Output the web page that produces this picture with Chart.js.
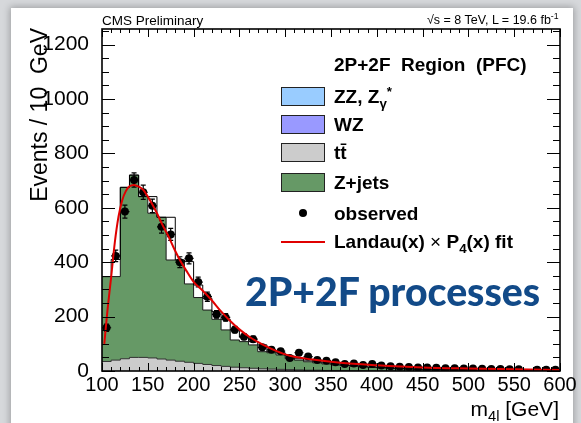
<!DOCTYPE html>
<html>
<head>
<meta charset="utf-8">
<title>m4l 2P+2F control region</title>
<script src="https://cdn.jsdelivr.net/npm/chart.js@4.4.1/dist/chart.umd.min.js"></script>
<style>
  html, body { margin: 0; padding: 0; width: 581px; height: 423px; overflow: hidden; background: #d6d8db; }
  body { position: relative; font-family: "Liberation Sans", Arial, sans-serif; color: #000; }
  #card { position: absolute; left: 11px; top: 8px; width: 562px; height: 440px; background: #fff;
          box-shadow: 0 0 7px 1px rgba(0, 0, 0, 0.28); }
  #plot { position: absolute; left: 0; top: 0; }
  .txt { position: absolute; white-space: nowrap; line-height: 1; }
  .box { position: absolute; border: 1px solid #222; box-sizing: border-box; }
  sub, sup { font-size: 0.7em; line-height: 0; }
</style>
</head>
<body>
<div id="card"></div>
<canvas id="plot" width="581" height="423"></canvas>
<div id="overlay"></div>
<script>
// ---- histogram binning (lower bin edges, 10 GeV wide) ----
const binLow = [100, 110, 120, 130, 140, 150, 160, 170, 180, 190,
                200, 210, 220, 230, 240, 250, 260, 270, 280, 290,
                300, 310, 320, 330, 340, 350, 360, 370, 380, 390,
                400, 410, 420, 430, 440, 450, 460, 470, 480, 490,
                500, 510, 520, 530, 540, 550, 560, 570, 580, 590];
const binWidth = 10;

// ttbar (bottom of the stack)
const ttbar = [35, 40, 45, 50, 50, 48, 44, 40, 36, 32,
               28, 24, 20, 17, 14, 12, 10, 8, 7, 6,
               5, 4, 3, 3, 2, 2, 2, 1, 1, 1,
               1, 1, 0, 0, 0, 0, 0, 0, 0, 0,
               0, 0, 0, 0, 0, 0, 0, 0, 0, 0];

// Z+jets, stacked on ttbar
const zjets = [312, 307, 630, 670, 591, 532, 521, 368, 372, 288,
               242, 200, 170, 134, 100, 96, 86, 63, 60, 53,
               40, 36, 31, 27, 24, 20, 18, 16, 14, 12,
               10, 8, 8, 7, 6, 5, 5, 4, 4, 3,
               3, 3, 2, 2, 2, 2, 1, 1, 1, 1];

// total expectation, drawn as an open black histogram
const totalMC = [347, 410, 675, 720, 641, 641, 565, 565, 408, 402,
                 316, 267, 218, 190, 151, 124, 108, 96, 71, 67,
                 55, 45, 40, 34, 30, 26, 22, 20, 17, 15,
                 13, 11, 9, 8, 7, 6, 5, 5, 4, 4,
                 3, 3, 3, 2, 2, 2, 2, 1, 1, 1];

// observed events per bin and their errors (null = empty bin)
const observed = [159, 423, 586, 702, 657, 607, 530, 502, 400, 414,
                  327, 273, 208, 197, 152, 126, 117, 87, 78, 73,
                  48, 67, 53, 40, 38, 32, 26, 28, 22, 26,
                  20, 17, 16, 15, 13, 13, 12, 10, 10, 9,
                  9, 8, 7, 7, 6, 6, null, 5, 5, 5];
const obsErr = [13, 21, 24, 26, 26, 25, 23, 22, 20, 20,
                18, 17, 14, 14, 12, 11, 11, 9, 9, 9,
                7, 8, 7, 6, 6, 6, 5, 5, 5, 5,
                4, 4, 4, 4, 4, 4, 3, 3, 3, 3,
                3, 3, 3, 3, 2, 2, null, 2, 2, 2];

// Landau x P4 fit curve
const fitX = [102.5, 106, 110, 114, 118, 122, 126, 130, 135, 140,
              145, 150, 155, 160, 166, 172, 178, 185, 192, 200,
              210, 220, 230, 240, 250, 262, 275, 290, 305, 330,
              360, 400, 450, 500, 550, 600];
const fitY = [100, 224, 345, 473, 567, 627, 661, 679, 684, 678,
              666, 641, 612, 580, 537, 499, 455, 408, 369, 328,
              295, 259, 219, 184, 153, 123, 98, 74, 56, 42,
              30, 21, 13, 9, 6, 4];

// axis ticks
const xTicks = [100, 150, 200, 250, 300, 350, 400, 450, 500, 550, 600];
const yTicks = [0, 200, 400, 600, 800, 1000, 1200];

// ---- helpers ----
// one point per lower edge plus the closing edge; with stepped:'before'
// each value is held flat until the next edge
function stepPoints(vals) {
    const pts = binLow.map((x, i) => ({ x: x, y: vals[i] }));
    pts.push({ x: binLow[binLow.length - 1] + binWidth, y: vals[vals.length - 1] });
    return pts;
}

const stackTop = zjets.map((v, i) => v + ttbar[i]);
const obsPoints = [];
binLow.forEach((x, i) => {
    if (observed[i] !== null) obsPoints.push({ x: x + binWidth / 2, y: observed[i], err: obsErr[i] });
});

// inward ticks on all four sides plus the frame, like a ROOT pad
const frameTicks = {
    id: 'frameTicks',
    afterDatasetsDraw(chart) {
        const { ctx, chartArea: a, scales: { x, y } } = chart;
        ctx.save();
        ctx.strokeStyle = '#000';
        ctx.lineWidth = 1;
        ctx.beginPath();
        for (let v = xTicks[0]; v <= xTicks[xTicks.length - 1]; v += 10) {
            const px = Math.round(x.getPixelForValue(v)) + 0.5;
            const len = xTicks.includes(v) ? 8 : 4;
            ctx.moveTo(px, a.bottom); ctx.lineTo(px, a.bottom - len);
            ctx.moveTo(px, a.top); ctx.lineTo(px, a.top + len);
        }
        for (let v = 0; v <= y.max; v += 50) {
            const py = Math.round(y.getPixelForValue(v)) + 0.5;
            const len = yTicks.includes(v) ? 13 : 7;
            ctx.moveTo(a.left, py); ctx.lineTo(a.left + len, py);
            ctx.moveTo(a.right, py); ctx.lineTo(a.right - len, py);
        }
        ctx.stroke();
        ctx.lineWidth = 1.6;
        ctx.strokeRect(a.left, a.top, a.right - a.left, a.bottom - a.top);
        ctx.restore();
    }
};

// vertical + horizontal error bars on the observed points
const errorBars = {
    id: 'errorBars',
    afterDatasetDraw(chart, args) {
        if (args.index !== 1) return;
        const { ctx, scales: { x, y } } = chart;
        ctx.save();
        ctx.strokeStyle = '#000';
        ctx.lineWidth = 1.2;
        ctx.beginPath();
        obsPoints.forEach(p => {
            const px = x.getPixelForValue(p.x);
            const top = y.getPixelForValue(p.y + p.err);
            const bot = y.getPixelForValue(Math.max(p.y - p.err, 0));
            ctx.moveTo(px, top); ctx.lineTo(px, bot);
            ctx.moveTo(px - 2.5, top); ctx.lineTo(px + 2.5, top);
            ctx.moveTo(px - 2.5, bot); ctx.lineTo(px + 2.5, bot);
            const py = y.getPixelForValue(p.y);
            ctx.moveTo(x.getPixelForValue(p.x - binWidth / 2), py);
            ctx.lineTo(x.getPixelForValue(p.x + binWidth / 2), py);
        });
        ctx.stroke();
        ctx.restore();
    }
};

const plainNumber = v => String(v);

new Chart(document.getElementById('plot'), {
    type: 'line',
    data: {
        datasets: [
            {
                label: 'fit',
                data: fitX.map((x, i) => ({ x: x, y: fitY[i] })),
                borderColor: '#e00000',
                borderWidth: 2,
                cubicInterpolationMode: 'monotone',
                pointRadius: 0,
                fill: false,
                order: 0
            },
            {
                label: 'observed',
                data: obsPoints,
                showLine: false,
                pointRadius: 4,
                pointBackgroundColor: '#000',
                pointBorderWidth: 0,
                order: 1
            },
            {
                label: 'total',
                data: stepPoints(totalMC),
                stepped: 'before',
                borderColor: '#000',
                borderWidth: 1,
                pointRadius: 0,
                fill: false,
                order: 2
            },
            {
                label: 'ttbar',
                data: stepPoints(ttbar),
                stepped: 'before',
                borderColor: '#333',
                borderWidth: 1,
                backgroundColor: '#cccccc',
                pointRadius: 0,
                fill: 'origin',
                order: 3
            },
            {
                label: 'Z+jets',
                data: stepPoints(stackTop),
                stepped: 'before',
                borderColor: '#1a1a1a',
                borderWidth: 1,
                backgroundColor: '#669966',
                pointRadius: 0,
                fill: 'origin',
                order: 4
            }
        ]
    },
    options: {
        responsive: false,
        animation: false,
        devicePixelRatio: 1,
        layout: { padding: { left: 0, right: 21, top: 29, bottom: 0 } },
        plugins: {
            legend: { display: false },
            tooltip: { enabled: false }
        },
        scales: {
            x: {
                type: 'linear',
                min: 100,
                max: 600,
                grid: { display: false },
                border: { display: false },
                afterBuildTicks: s => { s.ticks = xTicks.map(v => ({ value: v })); },
                afterFit: s => { s.height = 52; },
                ticks: { color: '#000', font: { family: 'Liberation Sans', size: 20 }, maxRotation: 0,
                         autoSkip: false, padding: -6, callback: plainNumber }
            },
            y: {
                type: 'linear',
                min: 0,
                max: 1257,
                grid: { display: false },
                border: { display: false },
                afterBuildTicks: s => { s.ticks = yTicks.map(v => ({ value: v })); },
                afterFit: s => { s.width = 102; },
                ticks: { color: '#000', font: { family: 'Liberation Sans', size: 21 }, padding: 5,
                         callback: plainNumber }
            }
        }
    },
    plugins: [frameTicks, errorBars]
});

// ---- text and legend drawn on top of the canvas ----
const overlay = document.getElementById('overlay');

function addText(html, x, baseline, size, opts = {}) {
    const el = document.createElement('div');
    el.className = 'txt';
    el.innerHTML = html;
    el.style.fontSize = size + 'px';
    el.style.top = (baseline - 0.8465 * size) + 'px';
    if (opts.weight) el.style.fontWeight = opts.weight;
    if (opts.color) el.style.color = opts.color;
    if (opts.family) el.style.fontFamily = opts.family;
    overlay.appendChild(el);
    if (opts.align === 'right') el.style.left = (x - el.offsetWidth) + 'px';
    else el.style.left = x + 'px';
    return el;
}

function addBox(x, y, w, h, color) {
    const el = document.createElement('div');
    el.className = 'box';
    Object.assign(el.style, { left: x + 'px', top: y + 'px', width: w + 'px', height: h + 'px', background: color });
    overlay.appendChild(el);
}

addText('CMS Preliminary', 102, 25, 13.5);
addText('&radic;s = 8 TeV, L = 19.6 fb<sup>-1</sup>', 559, 25, 12.5, { align: 'right' });

// legend
const legendEntries = [
    { label: 'ZZ, Z<sub>&gamma;</sub><sup>*</sup>', color: '#99ccff', cy: 96 },
    { label: 'WZ', color: '#9999ff', cy: 124 },
    { label: 't&#x0074;&#x0304;', color: '#cccccc', cy: 152 },
    { label: 'Z+jets', color: '#669966', cy: 182 }
];
addText('2P+2F&nbsp;&nbsp;Region&nbsp;&nbsp;(PFC)', 334, 71.5, 19, { weight: 'bold' });
legendEntries.forEach(e => {
    addBox(281, e.cy - 9.5, 44, 19, e.color);
    addText(e.label, 334, e.cy + 7.3, 19, { weight: 'bold' });
});
const dot = document.createElement('div');
Object.assign(dot.style, { position: 'absolute', left: '299px', top: '209px', width: '8px', height: '8px', borderRadius: '50%', background: '#000' });
overlay.appendChild(dot);
addText('observed', 334, 220.5, 19, { weight: 'bold' });
const fitLine = document.createElement('div');
Object.assign(fitLine.style, { position: 'absolute', left: '281px', top: '241px', width: '44px', height: '1.5px', background: '#e00000' });
overlay.appendChild(fitLine);
addText('Landau(x) <span style="font-weight:normal">&times;</span> P<sub>4</sub>(x) fit', 334, 248.5, 19, { weight: 'bold' });

// axis titles
addText('m<sub>4l</sub> [GeV]', 558.5, 415.5, 21, { align: 'right' });
const yTitle = document.createElement('div');
yTitle.className = 'txt';
yTitle.textContent = 'Events / 10  GeV';
Object.assign(yTitle.style, {
    fontSize: '23px', width: '260px', textAlign: 'right', whiteSpace: 'pre',
    left: (47.5 - 0.8465 * 23) + 'px', top: (28 + 260) + 'px',
    transformOrigin: '0 0', transform: 'rotate(-90deg)'
});
overlay.appendChild(yTitle);

// big annotation, sized to its slot
const big = addText('2P+2F processes', 245, 304, 36, { weight: 900, color: '#124a88', family: 'Lato, "Open Sans", sans-serif' });
const fitSize = 36 * 295 / big.offsetWidth;
big.style.fontSize = fitSize + 'px';
big.style.top = (304 - 0.8465 * fitSize) + 'px';
</script>
</body>
</html>
